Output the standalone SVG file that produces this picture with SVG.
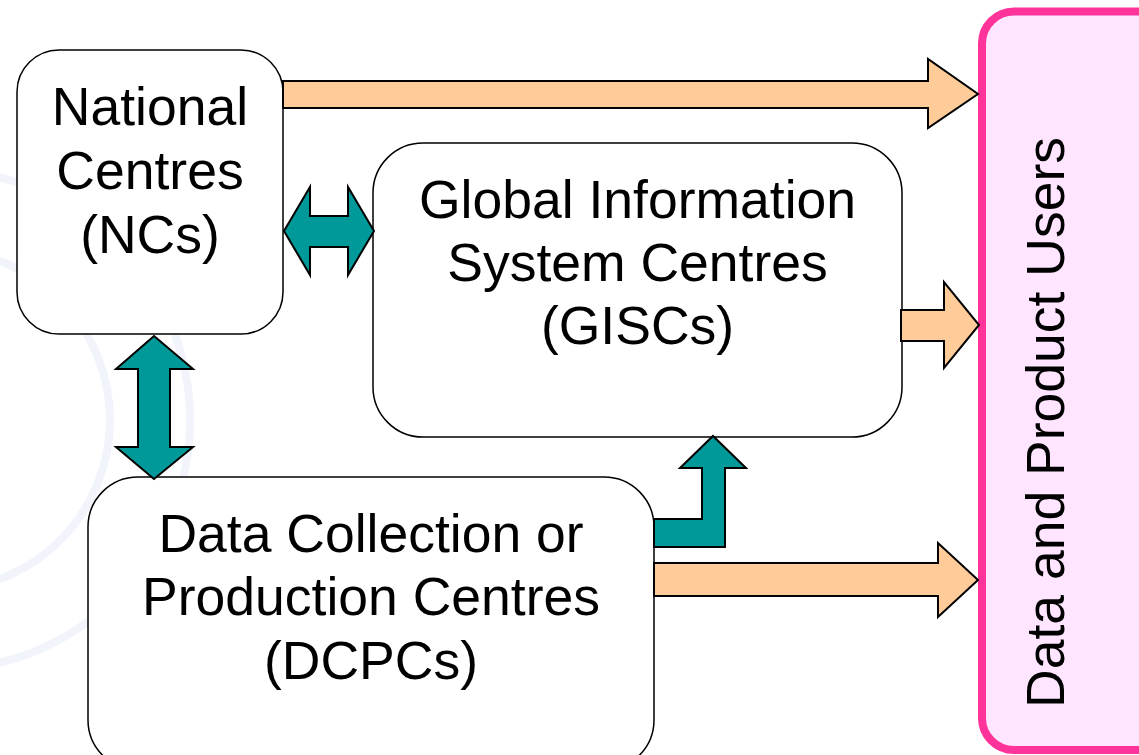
<svg xmlns="http://www.w3.org/2000/svg" width="1139" height="755" viewBox="0 0 1139 755">
<style>
.box{fill:#FFFFFF;stroke:#000000;stroke-width:1.5}
.users{fill:#FFE5FF;stroke:#FF3399;stroke-width:8}
.lbl{font-family:"Liberation Sans",Arial,sans-serif;font-size:53.5px;fill:#000000;text-anchor:middle}
.flow{fill:#FFCC99;stroke:#000000;stroke-width:2;stroke-linejoin:miter}
.link{fill:#009999;stroke:#000000;stroke-width:2;stroke-linejoin:miter}
.wm{fill:none;stroke:#F1F4FB;stroke-width:8}
</style>
<rect x="0" y="0" width="1139" height="755" fill="#FFFFFF"/>
<g id="watermark">
<circle class="wm" cx="-60" cy="420" r="250"/>
<circle class="wm" cx="-60" cy="420" r="170"/>
</g>
<g id="node-nc">
<rect class="box" x="17" y="50" width="266" height="284" rx="42" ry="42"/>
<text class="lbl" x="150" y="125">National</text>
<text class="lbl" x="150" y="189">Centres</text>
<text class="lbl" x="150" y="253">(NCs)</text>
</g>
<g id="node-gisc">
<rect class="box" x="373" y="143" width="529" height="294" rx="50" ry="50"/>
<text class="lbl" x="637.5" y="218">Global Information</text>
<text class="lbl" x="637.5" y="281">System Centres</text>
<text class="lbl" x="637.5" y="344">(GISCs)</text>
</g>
<g id="node-dcpc">
<rect class="box" x="88" y="477" width="566" height="293" rx="50" ry="50"/>
<text class="lbl" x="371" y="552">Data Collection or</text>
<text class="lbl" x="371" y="615">Production Centres</text>
<text class="lbl" x="371" y="679">(DCPCs)</text>
</g>
<g id="node-users">
<rect class="users" x="982" y="11.5" width="200" height="738.5" rx="32" ry="32"/>
<text class="lbl" transform="translate(1064,422.5) rotate(-90)" x="0" y="0">Data and Product Users</text>
</g>
<g id="connectors">
<polygon class="flow" points="283,81 928,81 928,59 978,94 928,128 928,108 283,108"/>
<polygon class="flow" points="901,310 944,310 944,282 979,325 944,368 944,341 901,341"/>
<polygon class="flow" points="654,563 938,563 938,543 978,580 938,617 938,596 654,596"/>
<polygon class="link" points="284,231 310,187 310,216 348,216 348,187 374,231 348,275 348,247 310,247 310,275"/>
<polygon class="link" points="154,336 193,369 170,369 170,447 193,447 154,479 116,447 138,447 138,369 116,369"/>
<polygon class="link" points="654,519 702,519 702,468 680,468 713,436 746,468 725,468 725,547 654,547"/>
</g>
</svg>
